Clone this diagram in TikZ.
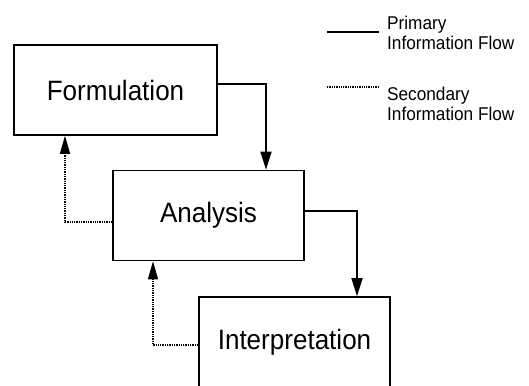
\documentclass[tikz,border=0pt]{standalone}
\usepackage{fontspec}
\setmainfont{Liberation Sans}
\newfontfamily\narrowsf[FakeStretch=0.93]{Liberation Sans}
\usetikzlibrary{calc,arrows.meta}
\tikzset{
  box/.style={draw=black, line width=1.6pt, minimum height=90pt, inner sep=0pt, font=\narrowsf\fontsize{28}{30}\selectfont},
  flow/.style={draw=black, line width=1.3pt, -{Triangle[length=18pt,width=11pt]}},
  back/.style={draw=black, line width=1.3pt, dash pattern=on 1.3pt off 1pt, -{Triangle[length=18pt,width=10pt]}},
  keyline/.style={draw=black, line width=1.2pt},
  lab/.style={anchor=west, inner sep=0pt, align=left, font=\narrowsf\fontsize{18.5}{20}\selectfont},
}
\begin{document}
\begin{tikzpicture}[x=1pt,y=-1pt]
  \useasboundingbox (0,0) rectangle (529,385);
  % stages
  \node[box, minimum width=203pt] (form) at (115.5,90) {Formulation\hspace{6pt}};
  \node[box, minimum width=191pt] (anal) at (208.5,215.5) {Analysis\hspace{15pt}};
  \node[box, minimum width=191pt] (intp) at (294.5,342) {Interpretation\hspace{13pt}};
  % primary flow
  \draw[flow] ([yshift=6pt]form.east) -| ([xshift=57.5pt]anal.north);
  \draw[flow] ([yshift=4.5pt]anal.east) -| ([xshift=62.5pt]intp.north);
  % secondary flow
  \draw[back] ([yshift=-6.5pt]anal.west) -| ([xshift=-50.5pt]form.south);
  \draw[back] ([yshift=-3pt]intp.west) -| ([xshift=-55.5pt]anal.south);
  % key
  \coordinate (k1a) at (327,32);
  \coordinate (k1b) at (379,32);
  \coordinate (k2a) at (327,87);
  \coordinate (k2b) at (379,87);
  \draw[keyline] (k1a) -- (k1b);
  \draw[keyline, dash pattern=on 1.3pt off 1pt] (k2a) -- (k2b);
  \node[lab] (prim) at (387,33) {Primary\\Information Flow};
  \node[lab] (sec) at (387,104) {Secondary\\Information Flow};
\end{tikzpicture}
\end{document}
